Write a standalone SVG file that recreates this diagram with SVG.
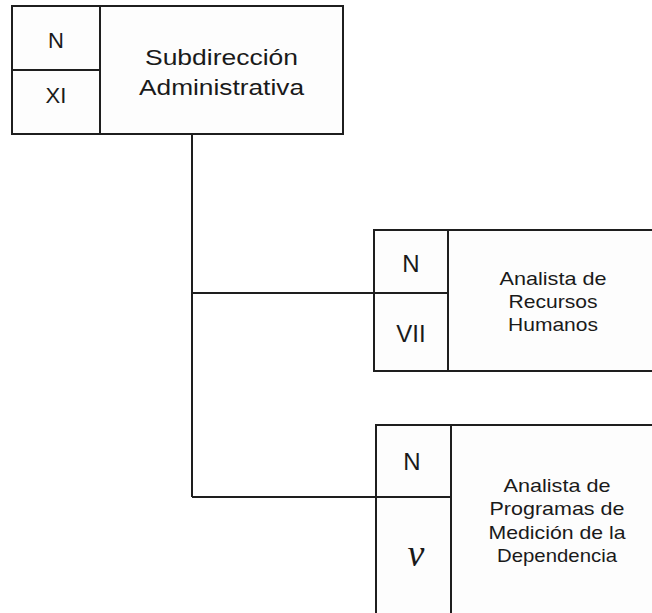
<svg xmlns="http://www.w3.org/2000/svg" width="652" height="613" viewBox="0 0 652 613">
<style>
.box{fill:#fdfdfd;stroke:#1e1e1e;stroke-width:2}
.ln{fill:none;stroke:#1e1e1e;stroke-width:2}
.t{font-family:"Liberation Sans",Arial,sans-serif;fill:#1a1a1a;text-anchor:middle}
.big{font-size:22px}
.lvl{font-size:24px}
.sm{font-size:19px}
.nu{font-family:"Liberation Serif","Times New Roman",serif;font-style:italic;font-size:38px;fill:#1a1a1a;text-anchor:middle}
</style>
<rect width="652" height="613" fill="#ffffff"/>
<g id="connectors">
<path class="ln" d="M192,134 V497 M192,293 H374 M192,497 H376"/>
</g>
<g id="node-subdireccion">
<rect class="box" x="12" y="6" width="331" height="128"/>
<path class="ln" d="M100,6 V134 M12,70 H100"/>
<text class="t big" x="56" y="48">N</text>
<text class="t big" x="56" y="103">XI</text>
<text class="t big" x="221.5" y="65" textLength="153" lengthAdjust="spacingAndGlyphs">Subdirección</text>
<text class="t big" x="221.5" y="95" textLength="165" lengthAdjust="spacingAndGlyphs">Administrativa</text>
</g>
<g id="node-rrhh">
<rect class="box" x="374" y="230" width="290" height="141"/>
<path class="ln" d="M448,230 V371 M374,293 H448"/>
<text class="t lvl" x="411" y="272">N</text>
<text class="t lvl" x="411" y="342">VII</text>
<text class="t sm" x="553" y="285" textLength="107" lengthAdjust="spacingAndGlyphs">Analista de</text>
<text class="t sm" x="553" y="308" textLength="89" lengthAdjust="spacingAndGlyphs">Recursos</text>
<text class="t sm" x="553" y="331" textLength="90" lengthAdjust="spacingAndGlyphs">Humanos</text>
</g>
<g id="node-programas">
<rect class="box" x="376" y="425" width="290" height="200"/>
<path class="ln" d="M451,425 V625 M376,497 H451"/>
<text class="t lvl" x="412" y="470">N</text>
<text class="nu" x="416" y="566">ν</text>
<text class="t sm" x="557" y="492" textLength="107" lengthAdjust="spacingAndGlyphs">Analista de</text>
<text class="t sm" x="557" y="515" textLength="135" lengthAdjust="spacingAndGlyphs">Programas de</text>
<text class="t sm" x="557" y="539" textLength="137" lengthAdjust="spacingAndGlyphs">Medición de la</text>
<text class="t sm" x="557" y="562" textLength="120" lengthAdjust="spacingAndGlyphs">Dependencia</text>
</g>
</svg>
